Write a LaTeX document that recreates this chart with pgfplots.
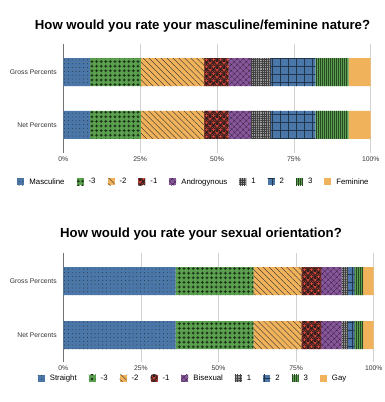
\documentclass[border=0pt]{standalone}
\usepackage{pgfplots}
\pgfplotsset{compat=1.18}
\usepackage{fontspec}
\setmainfont{Liberation Sans}
\usetikzlibrary{patterns,patterns.meta}

\definecolor{cblue}{HTML}{4A76A8}
\definecolor{cgreen}{HTML}{5AA04E}
\definecolor{corange}{HTML}{F0B35C}
\definecolor{cred}{HTML}{E0473A}
\definecolor{cpurple}{HTML}{86559A}
\definecolor{cgray}{HTML}{9B9B9B}

\pgfdeclarepatternformonly{scales}{\pgfpoint{-0.5pt}{-0.5pt}}{\pgfpoint{7.5pt}{7.5pt}}{\pgfpoint{7pt}{7pt}}{%
  \pgfsetlinewidth{0.4pt}%
  \pgfpathmoveto{\pgfpoint{7pt}{0pt}}\pgfpatharc{0}{180}{3.5pt}%
  \pgfpathmoveto{\pgfpoint{6pt}{0pt}}\pgfpatharc{0}{180}{2.5pt}%
  \pgfpathmoveto{\pgfpoint{5pt}{0pt}}\pgfpatharc{0}{180}{1.5pt}%
  \pgfpathmoveto{\pgfpoint{3.5pt}{3.5pt}}\pgfpatharc{0}{180}{3.5pt}%
  \pgfpathmoveto{\pgfpoint{2.5pt}{3.5pt}}\pgfpatharc{0}{180}{2.5pt}%
  \pgfpathmoveto{\pgfpoint{1.5pt}{3.5pt}}\pgfpatharc{0}{180}{1.5pt}%
  \pgfpathmoveto{\pgfpoint{10.5pt}{3.5pt}}\pgfpatharc{0}{180}{3.5pt}%
  \pgfpathmoveto{\pgfpoint{9.5pt}{3.5pt}}\pgfpatharc{0}{180}{2.5pt}%
  \pgfpathmoveto{\pgfpoint{8.5pt}{3.5pt}}\pgfpatharc{0}{180}{1.5pt}%
  \pgfusepath{stroke}%
}

\pgfplotsset{
  common/.style={
    scale only axis, xbar stacked, bar width=28pt,
    xmin=0, xmax=100, ytick={0,1}, yticklabels={Net Percents,Gross Percents},
    xtick={0,25,50,75,100}, xticklabels={0\%,25\%,50\%,75\%,100\%},
    xmajorgrids, grid style={black!18, line width=0.7pt},
    axis line style={draw=none}, tick style={draw=none},
    extra x ticks={0}, extra x tick labels={},
    extra x tick style={grid style={black!55, line width=0.9pt}},
    ticklabel style={font=\fontsize{6.8}{7}\selectfont, text=black!80},
    yticklabel style={xshift=-3pt},
    legend columns=-1,
    legend style={draw=none, fill=none, font=\fontsize{7.8}{9}\selectfont,
      /tikz/every odd column/.append style={column sep=3pt},
      /tikz/every even column/.append style={column sep=10pt}},
    legend image code/.code={\fill[##1] (0pt,-3.5pt) rectangle (7pt,3.5pt);},
    anchor=north west,
  },
  s1/.style={fill=cblue, draw=none, postaction={pattern={Dots[distance=3.8pt,radius=0.45pt]}, pattern color=black!85}},
  s2/.style={fill=cgreen, draw=none, postaction={pattern={Stars[points=4,radius=1.7pt,distance=4.6pt]}, pattern color=black!70!cgreen}},
  s3/.style={fill=corange, draw=none, postaction={pattern={Lines[angle=-45,distance=4.2pt,line width=0.35pt]}, pattern color=black!85}},
  s4/.style={fill=cred, draw=none, postaction={pattern=scales, pattern color=black!90}},
  s5/.style={fill=cpurple, draw=none, postaction={pattern={Hatch[angle=45,distance=4pt,line width=0.35pt]}, pattern color=black!60!cpurple}},
  s6/.style={fill=cgray, draw=none, postaction={pattern={Hatch[angle=0,distance=2.2pt,line width=0.4pt]}, pattern color=black!75}},
  s7/.style={fill=cblue, draw=none, postaction={pattern={Hatch[angle=0,distance=8pt,line width=0.35pt]}, pattern color=black!55!cblue}},
  s8/.style={fill=cgreen, draw=none, postaction={pattern={Lines[angle=90,distance=2pt,line width=0.35pt]}, pattern color=black!55!cgreen}},
  s9/.style={fill=corange, draw=none},
}

\begin{document}
\begin{tikzpicture}[x=1pt,y=1pt]
\path[use as bounding box] (0,0) rectangle (385,-402);

\node[font=\bfseries\fontsize{13.2}{15}\selectfont] at (202.5,-26) {How would you rate your masculine/feminine nature?};
\begin{axis}[common, at={(63.3pt,-44pt)}, width=307.4pt, height=109pt,
  ymin=-0.53, ymax=1.53,
  legend style={at={(0.425,-0.266)}, anchor=center}]
\addplot[s1] coordinates {(8.7,1) (8.7,0)};
\addplot[s2] coordinates {(16.5,1) (16.5,0)};
\addplot[s3] coordinates {(20.6,1) (20.6,0)};
\addplot[s4] coordinates {(8.0,1) (8.0,0)};
\addplot[s5] coordinates {(7.2,1) (7.2,0)};
\addplot[s6] coordinates {(6.5,1) (6.5,0)};
\addplot[s7] coordinates {(14.5,1) (14.5,0)};
\addplot[s8] coordinates {(10.8,1) (10.8,0)};
\addplot[s9] coordinates {(7.2,1) (7.2,0)};
\legend{Masculine,-3,-2,-1,Androgynous,1,2,3,Feminine}
\end{axis}

\node[font=\bfseries\fontsize{13.2}{15}\selectfont] at (201,-234) {How would you rate your sexual orientation?};
\begin{axis}[common, at={(63.3pt,-253pt)}, width=310.4pt, height=109pt,
  ymin=-0.5, ymax=1.52,
  legend style={at={(0.418,-0.15)}, anchor=center}]
\addplot[s1] coordinates {(36.2,1) (36.2,0)};
\addplot[s2] coordinates {(25.0,1) (25.0,0)};
\addplot[s3] coordinates {(15.5,1) (15.5,0)};
\addplot[s4] coordinates {(6.4,1) (6.4,0)};
\addplot[s5] coordinates {(6.6,1) (6.6,0)};
\addplot[s6] coordinates {(2.0,1) (2.0,0)};
\addplot[s7] coordinates {(2.1,1) (2.1,0)};
\addplot[s8] coordinates {(2.8,1) (2.8,0)};
\addplot[s9] coordinates {(3.4,1) (3.4,0)};
\legend{Straight,-3,-2,-1,Bisexual,1,2,3,Gay}
\end{axis}
\end{tikzpicture}
\end{document}
